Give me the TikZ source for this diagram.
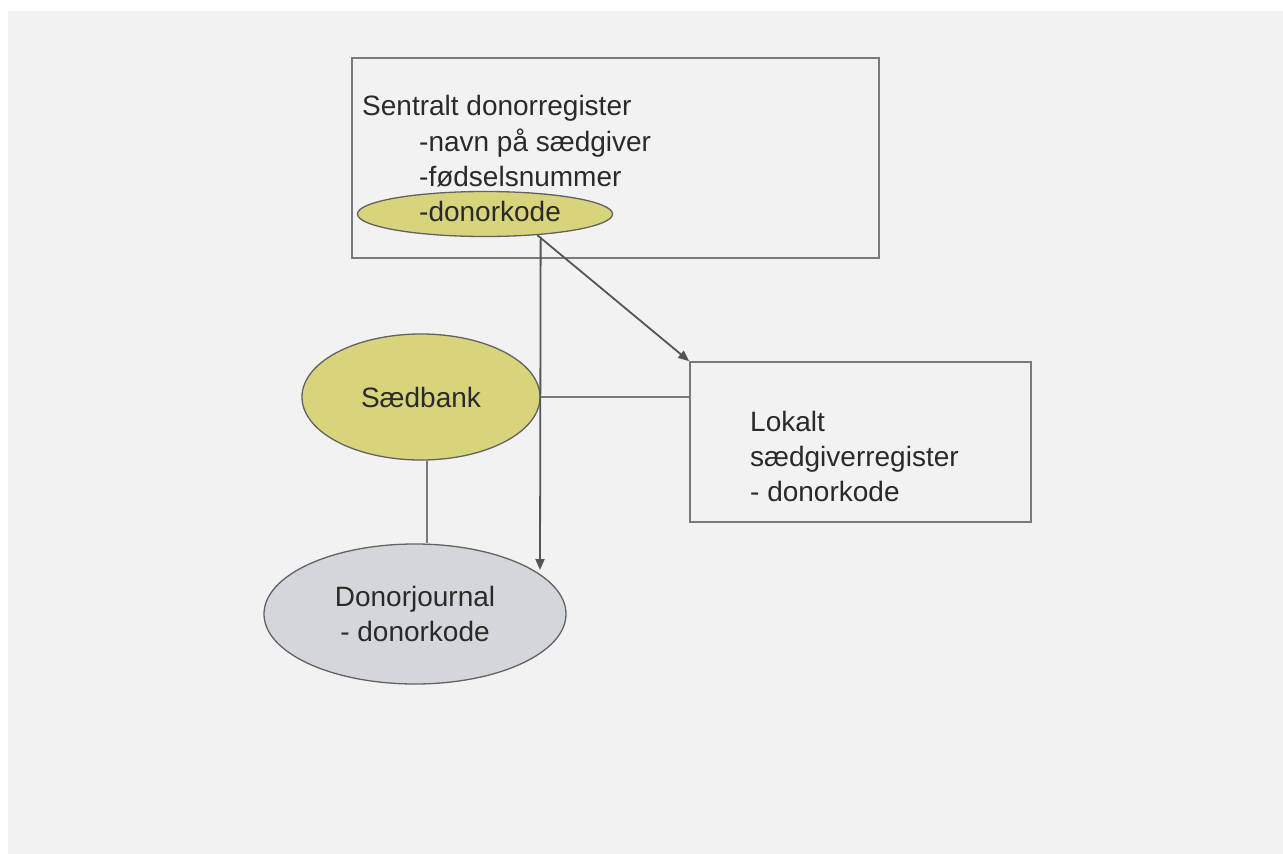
\documentclass[tikz,border=0pt]{standalone}
\usepackage{fontspec}
\setmainfont{Liberation Sans}
\usetikzlibrary{shapes.geometric,arrows.meta,calc}
\definecolor{bg}{HTML}{F2F2F2}
\definecolor{olive}{HTML}{D8D47C}
\definecolor{bluegray}{HTML}{D3D7DB}
\definecolor{edge}{HTML}{7A7A7A}
\definecolor{txt}{HTML}{2A2A2A}
\tikzset{
  box/.style={draw=edge, line width=1.6pt, rectangle, inner sep=0pt},
  oval/.style={draw=edge!80!black, line width=1.3pt, ellipse, inner sep=0pt},
  lbl/.style={font=\fontsize{28}{35}\selectfont, text=txt, inner sep=0pt},
  conn/.style={draw=edge, line width=1.8pt},
  arr/.style={conn, -{Triangle[length=11pt,width=9pt]}, color=edge!70!black}
}
\begin{document}
\begin{tikzpicture}[x=1pt,y=-1pt]
\useasboundingbox (0,0) rectangle (1283,854);
\fill[white] (0,0) rectangle (1283,854);
\fill[bg] (8,11) rectangle (1283,854);
% top box
\node[box, minimum width=527pt, minimum height=200pt] (top) at (615.5,158) {};
\node[lbl, anchor=west] (t1) at (362,108) {Sentralt donorregister};
\node[lbl, anchor=west] (t2) at (419,143) {-navn på sædgiver};
\node[lbl, anchor=west] (t3) at (419,177) {-fødselsnummer};
\node[oval, fill=olive, minimum width=255pt, minimum height=45pt] (dk) at (485,214) {};
\node[lbl, anchor=west] (t4) at (419,211) {-donorkode};
% Saedbank
\node[oval, fill=olive, minimum width=238pt, minimum height=126pt, lbl] (sb) at (421,397) {Sædbank};
% Donorjournal
\node[oval, fill=bluegray, minimum width=302pt, minimum height=140pt, lbl, align=center] (dj) at (415,614) {Donorjournal\\- donorkode};
% Lokalt box
\node[box, minimum width=341pt, minimum height=160pt] (lok) at (860.5,442) {};
\node[lbl, anchor=north west, align=left] (lt) at (750,411) {Lokalt\\sædgiverregister\\- donorkode};
% connectors
\coordinate (dtip) at (540,570);
\draw[arr] (dk.south -| sb.east) -- (dtip);
\draw[arr] (dk.-22) -- (lok.north west);
\draw[conn] ([xshift=6pt]sb.south) -- ([xshift=6pt]sb.south |- dj.north);
\draw[conn] (sb.east) -- (sb.east -| lok.west);
\end{tikzpicture}
\end{document}
